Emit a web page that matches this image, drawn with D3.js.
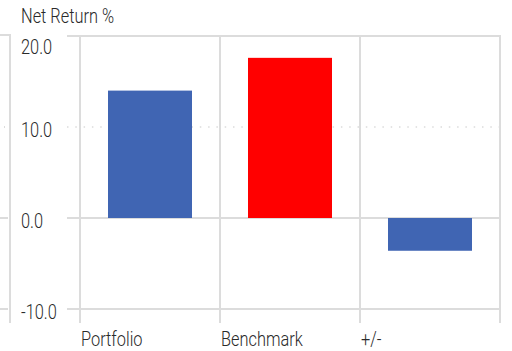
<!DOCTYPE html>
<html>
<head>
<meta charset="utf-8">
<script src="https://cdn.jsdelivr.net/npm/d3@7"></script>
<style>
  html, body { margin: 0; padding: 0; background: #fff; }
  svg { display: block; }
  text { font-family: Roboto, "Liberation Sans", sans-serif; fill: #2a2a2a; font-size: 21px; font-weight: 300; }
</style>
</head>
<body>
<svg id="chart" width="512" height="351"></svg>
<script>
// Net return figures per category
const categories = ["Portfolio", "Benchmark", "+/-"];
const netReturn = [14.0, 17.6, -3.6];
const barColors = ["#4065b3", "#ff0000", "#4065b3"];
const yTicks = [20, 10, 0, -10];
const yTickLabels = ["20.0", "10.0", "0.0", "-10.0"];
const title = "Net Return %";

const svg = d3.select("#chart");
const plot = { left: 80, right: 500, top: 36, bottom: 309 };
const gridColor = "#dcdcdc";
const narrow = 0.78; // horizontal squeeze for a condensed look

const y = d3.scaleLinear().domain([-10, 20]).range([plot.bottom, plot.top]);
const x = d3.scaleBand().domain(categories).range([plot.left, plot.right]).paddingInner(0).paddingOuter(0);

// condensed text helper
function label(sel, tx, ty) {
  return sel.attr("transform", (d, i) => `translate(${tx(d, i)},${ty(d, i)}) scale(${narrow},1)`);
}

// edge of the neighbouring panel on the left
svg.append("path")
  .attr("d", `M0,${plot.top - 1}H10V${plot.bottom + 14}`)
  .attr("fill", "none").attr("stroke", gridColor).attr("stroke-width", 2);
svg.selectAll("line.stub").data(yTicks.filter(t => t !== 20)).join("line")
  .attr("class", "stub")
  .attr("x1", 0).attr("x2", 8)
  .attr("y1", d => y(d)).attr("y2", d => y(d))
  .attr("stroke", gridColor).attr("stroke-width", 2)
  .attr("stroke-dasharray", d => d === 10 ? "1,7" : null)
  .attr("stroke-dashoffset", -4);

// horizontal gridlines
svg.selectAll("line.hgrid").data(yTicks).join("line")
  .attr("class", "hgrid")
  .attr("x1", 67).attr("x2", plot.right)
  .attr("y1", d => y(d)).attr("y2", d => y(d))
  .attr("stroke", gridColor)
  .attr("stroke-width", d => d === 10 ? 1.5 : 2)
  .attr("stroke-dasharray", d => d === 10 ? "1.5,6.8" : null);

// vertical separators at category boundaries
const bounds = categories.map(c => x(c)).concat([plot.right]);
svg.selectAll("line.vgrid").data(bounds).join("line")
  .attr("class", "vgrid")
  .attr("x1", d => d).attr("x2", d => d)
  .attr("y1", plot.top - 1).attr("y2", plot.bottom + 14)
  .attr("stroke", gridColor).attr("stroke-width", 2);

// bars
const bw = x.bandwidth();
svg.selectAll("rect.bar").data(categories).join("rect")
  .attr("class", "bar")
  .attr("x", d => x(d) + bw * 0.2)
  .attr("width", bw * 0.6)
  .attr("y", (d, i) => y(Math.max(0, netReturn[i])))
  .attr("height", (d, i) => Math.abs(y(netReturn[i]) - y(0)))
  .attr("fill", (d, i) => barColors[i]);

// y tick labels
label(svg.selectAll("text.ytick").data(yTicks).join("text").attr("class", "ytick"),
      () => 21, d => Math.max(y(d) + 10, plot.top + 18))
  .text((d, i) => yTickLabels[i]);

// category labels
label(svg.selectAll("text.xlab").data(categories).join("text").attr("class", "xlab"),
      d => x(d) + 1, () => 346)
  .text(d => d);

// title
label(svg.append("text"), () => 21, () => 23).text(title);
</script>
</body>
</html>
